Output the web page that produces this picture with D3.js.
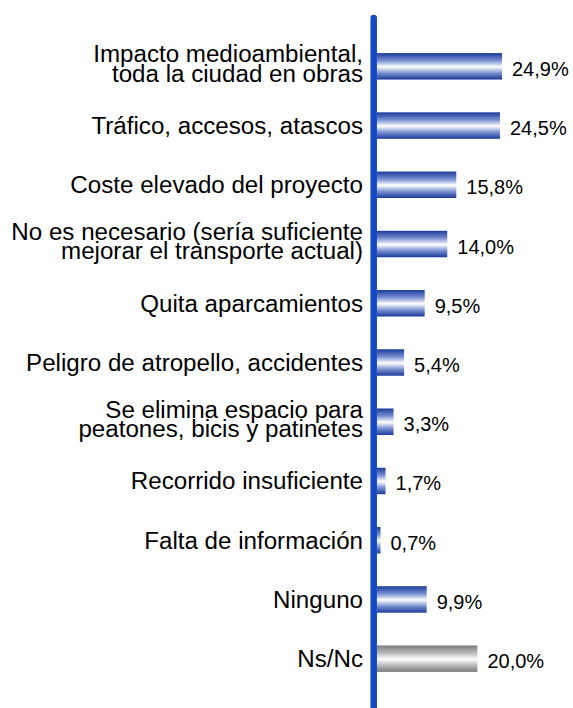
<!DOCTYPE html>
<html>
<head>
<meta charset="utf-8">
<script src="https://cdn.jsdelivr.net/npm/d3@7"></script>
<style>
  html, body { margin: 0; padding: 0; background: #fff; }
  text { font-family: "Liberation Sans", Arial, sans-serif; fill: #000; }
</style>
</head>
<body>
<div id="chart"></div>
<script>
(function () {
  'use strict';

  // categories, one entry per bar (lines split where the label wraps)
  var categories = [
    ['Impacto medioambiental,', 'toda la ciudad en obras'],
    ['Tráfico, accesos, atascos'],
    ['Coste elevado del proyecto'],
    ['No es necesario (sería suficiente', 'mejorar el transporte actual)'],
    ['Quita aparcamientos'],
    ['Peligro de atropello, accidentes'],
    ['Se elimina espacio para', 'peatones, bicis y patinetes'],
    ['Recorrido insuficiente'],
    ['Falta de información'],
    ['Ninguno'],
    ['Ns/Nc']
  ];
  var values = [24.9, 24.5, 15.8, 14.0, 9.5, 5.4, 3.3, 1.7, 0.7, 9.9, 20.0];
  var greyRows = [false, false, false, false, false, false, false, false, false, false, true];

  var width = 573;
  var height = 708;
  var axisX = 377;

  var svg = d3.select('#chart').append('svg')
    .attr('width', width)
    .attr('height', height);

  var defs = svg.append('defs');
  _gradient('barBlue', '#1a3a9a', '#778ecf');
  _gradient('barGrey', '#7c7c7c', '#b8b8b8');

  var y = d3.scaleBand()
    .domain(d3.range(categories.length))
    .range([36.7, 688.3])
    .paddingInner(0.553)
    .paddingOuter(0.2765);

  var x = d3.scaleLinear()
    .domain([0, 25])
    .range([axisX, axisX + 125.5]);

  var fmt = function (v) {
    return d3.format('.1f')(v).replace('.', ',') + '%';
  };

  /* bars */
  svg.selectAll('.bar')
    .data(values)
    .enter()
    .append('rect')
    .attr('class', 'bar')
    .attr('x', x(0))
    .attr('y', function (d, i) { return y(i); })
    .attr('width', function (d) { return x(d) - x(0); })
    .attr('height', y.bandwidth())
    .attr('fill', function (d, i) {
      return greyRows[i] ? 'url(#barGrey)' : 'url(#barBlue)';
    });

  /* value labels */
  svg.selectAll('.value')
    .data(values)
    .enter()
    .append('text')
    .attr('class', 'value')
    .attr('x', function (d) { return x(d) + 10; })
    .attr('y', function (d, i) { return y(i) + y.bandwidth() / 2 + 9.5; })
    .style('font-size', '20px')
    .text(fmt);

  /* category labels, a bit wider than the font's own shape */
  var labels = svg.selectAll('.cat')
    .data(categories)
    .enter()
    .append('text')
    .attr('class', 'cat')
    .attr('text-anchor', 'end')
    .style('font-size', '23px')
    .attr('transform', function (d, i) {
      var cy = y(i) + y.bandwidth() / 2;
      var base = d.length > 1 ? cy - 4 : cy + 8.5;
      return 'translate(363,' + base + ') scale(1.05,1)';
    });

  labels.selectAll('tspan')
    .data(function (d) { return d; })
    .enter()
    .append('tspan')
    .attr('x', 0)
    .attr('y', function (d, i) { return i * 19.3; })
    .text(function (d) { return d; });

  /* vertical axis line */
  svg.append('line')
    .attr('x1', axisX - 3.3)
    .attr('x2', axisX - 3.3)
    .attr('y1', 18)
    .attr('y2', height + 10)
    .attr('stroke', '#1448c4')
    .attr('stroke-width', 6.5)
    .attr('stroke-linecap', 'round');

  function _gradient(id, dark, mid) {
    var g = defs.append('linearGradient')
      .attr('id', id)
      .attr('x1', 0).attr('y1', 0)
      .attr('x2', 0).attr('y2', 1);
    g.append('stop').attr('offset', '0%').attr('stop-color', dark);
    g.append('stop').attr('offset', '28%').attr('stop-color', mid);
    g.append('stop').attr('offset', '52%').attr('stop-color', '#ffffff');
    g.append('stop').attr('offset', '76%').attr('stop-color', mid);
    g.append('stop').attr('offset', '100%').attr('stop-color', dark);
  }
}());
</script>
</body>
</html>
